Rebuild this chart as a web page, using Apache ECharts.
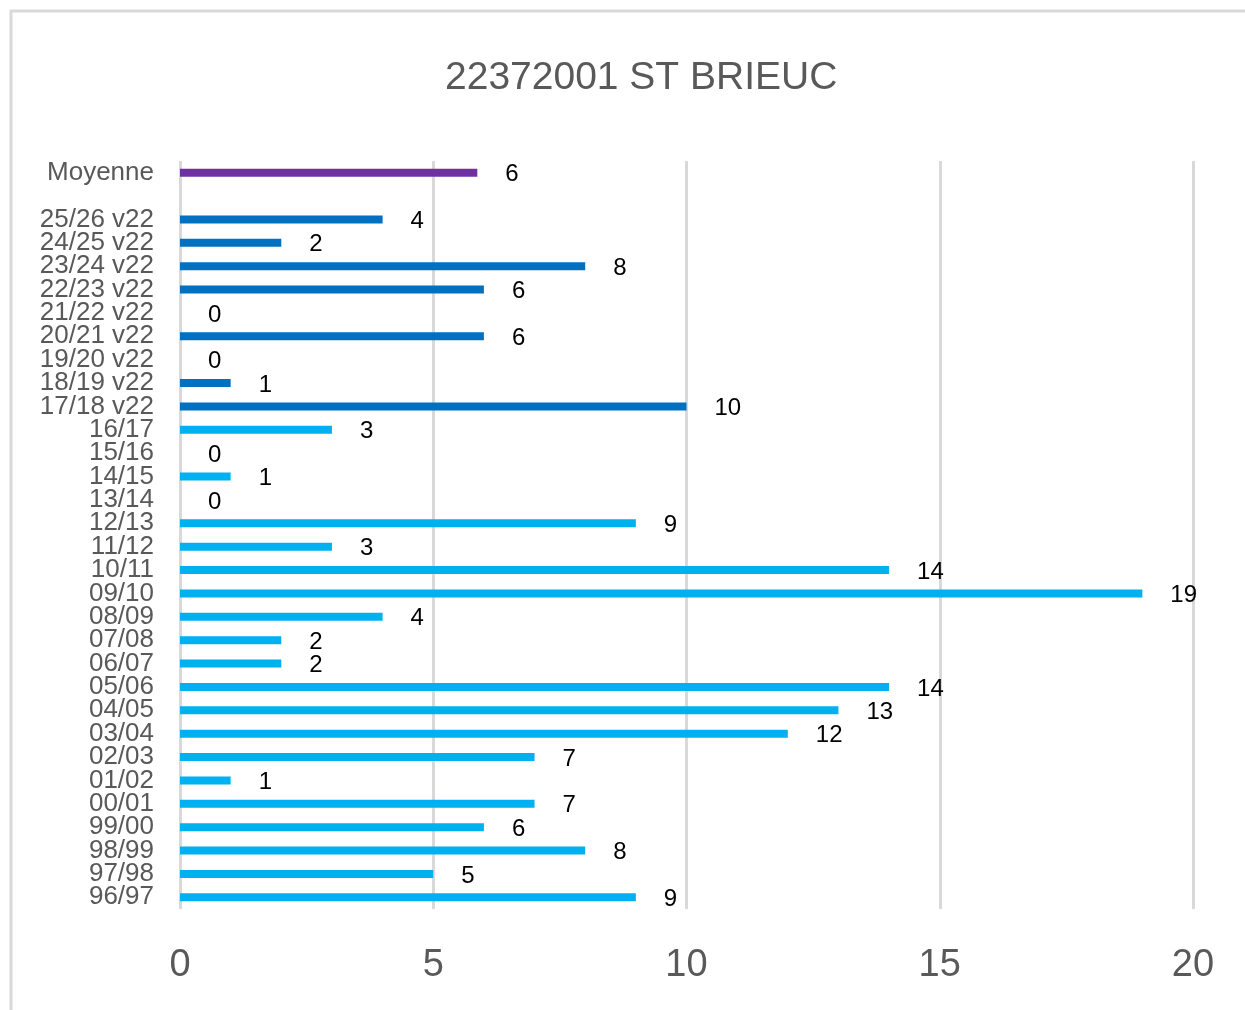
<!DOCTYPE html>
<html>
<head>
<meta charset="utf-8">
<title>22372001 ST BRIEUC</title>
<script src="https://cdn.jsdelivr.net/npm/echarts@6/dist/echarts.min.js"></script>
<style>
  html, body { margin: 0; padding: 0; background: #fff; }
  #chart { width: 1245px; height: 1010px; }
</style>
</head>
<body>
<div id="chart"></div>
<script>
// catégories de bas en haut (la case vide sépare la moyenne des saisons)
const categories = [
  "96/97", "97/98", "98/99", "99/00", "00/01", "01/02", "02/03", "03/04",
  "04/05", "05/06", "06/07", "07/08", "08/09", "09/10", "10/11", "11/12",
  "12/13", "13/14", "14/15", "15/16", "16/17",
  "17/18 v22", "18/19 v22", "19/20 v22", "20/21 v22", "21/22 v22",
  "22/23 v22", "23/24 v22", "24/25 v22", "25/26 v22",
  "", "Moyenne"
]
// valeurs
const oldSeasons = [9, 5, 8, 6, 7, 1, 7, 12, 13, 14, 2, 2, 4, 19, 14, 3, 9, 0, 1, 0, 3]
const v22Seasons = [10, 1, 0, 6, 0, 6, 8, 2, 4]
const moyenne = 5.87
const xTicks = [0, 5, 10, 15, 20]

const colors = { old: "#00B0F0", v22: "#0070C0", moy: "#7030A0" }

const data = []
oldSeasons.forEach(v => data.push({ value: v, itemStyle: { color: colors.old } }))
v22Seasons.forEach(v => data.push({ value: v, itemStyle: { color: colors.v22 } }))
data.push({ value: null, label: { show: false } })
data.push({ value: moyenne, itemStyle: { color: colors.moy } })

const chart = echarts.init(document.getElementById("chart"))
const font = "'Liberation Sans', Arial, sans-serif"

chart.setOption({
  animation: false,
  backgroundColor: "#fff",
  textStyle: { fontFamily: font },
  title: {
    text: "22372001 ST BRIEUC",
    left: 440,
    top: 54,
    textStyle: { fontSize: 39, fontWeight: "normal", color: "#595959", fontFamily: font },
  },
  graphic: [{
    type: "polyline",
    shape: { points: [[11, 1010], [11, 11], [1245, 11]] },
    style: { stroke: "#d9d9d9", lineWidth: 3, fill: null },
  }],
  grid: { left: 180, right: 52, top: 161, bottom: 101, containLabel: false },
  xAxis: {
    type: "value",
    min: xTicks[0],
    max: xTicks[xTicks.length - 1],
    interval: 5,
    axisLine: { show: false },
    axisTick: { show: false },
    axisLabel: { fontSize: 38, color: "#595959", margin: 38, fontFamily: font },
    splitLine: { lineStyle: { color: "#d9d9d9", width: 3 } },
  },
  yAxis: {
    type: "category",
    data: categories,
    axisLine: { show: false },
    axisTick: { show: false },
    axisLabel: { fontSize: 26, color: "#595959", margin: 26, interval: 0, fontFamily: font },
  },
  series: [{
    type: "bar",
    data: data,
    barWidth: 8,
    label: {
      show: true,
      position: "right",
      distance: 28,
      offset: [0, 2],
      fontSize: 24,
      color: "#000",
      fontFamily: font,
      formatter: p => (p.value == null ? "" : Math.round(p.value)),
    },
  }],
})
</script>
</body>
</html>
